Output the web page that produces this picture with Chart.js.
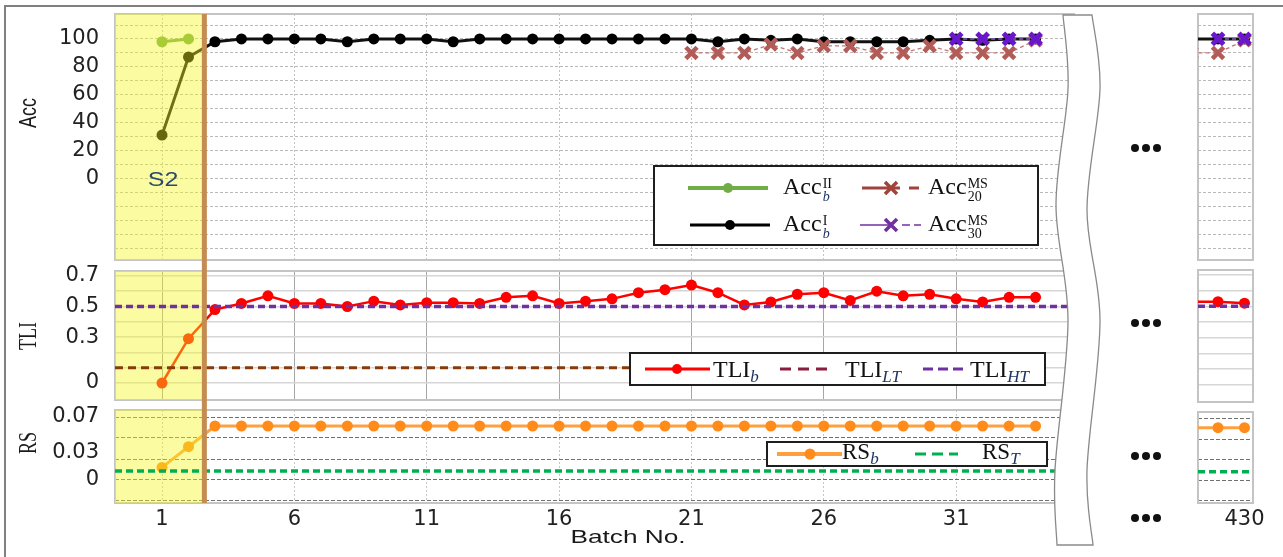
<!DOCTYPE html>
<html>
<head>
<meta charset="utf-8">
<script src="https://cdn.jsdelivr.net/npm/chart.js@4.4.1/dist/chart.umd.min.js"></script>
<style>
body { margin: 0; background: #fff; }
#fig { position: relative; width: 1283px; height: 557px; overflow: hidden; background: #fff; font-family: "Liberation Sans", Arial, sans-serif; }
#fig canvas { position: absolute; }
.frame { position: absolute; left: 4px; top: 5px; width: 1400px; height: 700px; border: 2px solid #808080; }
.title { position: absolute; width: 100px; height: 30px; line-height: 30px; text-align: center; font-size: 18px; color: #1a1a1a; white-space: nowrap; }
.lg { position: absolute; border: 2px solid #1e1e1e; background: #fff; box-sizing: border-box; }
.lg svg { position: absolute; left: 0; top: 0; }
.lt { position: absolute; font-family: "Liberation Serif", serif; color: #111; white-space: nowrap; }
.lt i { color: #1f3366; }
.ss { display: inline-block; vertical-align: -7px; font-size: 14px; line-height: 13px; margin-left: 1px; }
.ss span { display: block; }
.lt sub { font-size: 17px; vertical-align: -5px; line-height: 0; }
.dots { position: absolute; width: 30px; height: 8px; }
.dots b { position: absolute; top: 0; width: 8px; height: 8px; border-radius: 50%; background: #111; }
</style>
</head>
<body>
<div id="fig">
  <div class="frame"></div>
  <canvas id="accMain" width="1075" height="265" style="left:0;top:0"></canvas>
  <canvas id="accTail" width="93" height="265" style="left:1190px;top:0"></canvas>
  <canvas id="tliMain" width="1075" height="140" style="left:0;top:265px"></canvas>
  <canvas id="tliTail" width="93" height="140" style="left:1190px;top:265px"></canvas>
  <canvas id="rsMain" width="1075" height="152" style="left:0;top:405px"></canvas>
  <canvas id="rsTail" width="93" height="152" style="left:1190px;top:405px"></canvas>

  <svg id="wave" width="1283" height="557" style="position:absolute;left:0;top:0"></svg>

  <div class="title" style="left:-22px;top:98px;transform:scaleX(1.35) rotate(-90deg)">Acc</div>
  <div class="title" style="left:-22px;top:321px;font-family:'Liberation Serif',serif;transform:scaleX(1.35) rotate(-90deg)">TLI</div>
  <div class="title" style="left:-22px;top:428px;font-family:'Liberation Serif',serif;transform:scaleX(1.35) rotate(-90deg)">RS</div>
  <div class="title" style="left:578px;top:522px;font-size:19px;transform:scaleX(1.38)">Batch No.</div>
  <div class="title" style="left:113px;top:164px;font-size:20px;color:#2c4a6a;transform:scaleX(1.25)">S2</div>

  <div class="dots" style="left:1131px;top:144px"><b style="left:0"></b><b style="left:11px"></b><b style="left:22px"></b></div>
  <div class="dots" style="left:1131px;top:319px"><b style="left:0"></b><b style="left:11px"></b><b style="left:22px"></b></div>
  <div class="dots" style="left:1131px;top:452px"><b style="left:0"></b><b style="left:11px"></b><b style="left:22px"></b></div>
  <div class="dots" style="left:1131px;top:514px"><b style="left:0"></b><b style="left:11px"></b><b style="left:22px"></b></div>

  <div class="lg" style="left:653px;top:165px;width:386px;height:81px">
    <svg width="382" height="77">
      <line x1="33" y1="21" x2="113" y2="21" stroke="#70ad47" stroke-width="4"/>
      <circle cx="73" cy="21" r="5" fill="#70ad47"/>
      <line x1="207" y1="21" x2="245" y2="21" stroke="#a0443b" stroke-width="3"/>
      <path d="M230 15 L242 27 M242 15 L230 27" stroke="#a0443b" stroke-width="3.5"/>
      <line x1="254" y1="21" x2="264" y2="21" stroke="#a0443b" stroke-width="3"/>
      <line x1="35" y1="58" x2="115" y2="58" stroke="#000" stroke-width="3"/>
      <circle cx="75" cy="58" r="5" fill="#000"/>
      <line x1="205" y1="58" x2="236" y2="58" stroke="#7030a0" stroke-width="1.5"/>
      <path d="M230 52 L242 64 M242 52 L230 64" stroke="#7030a0" stroke-width="3.5"/>
      <line x1="247" y1="58" x2="255" y2="58" stroke="#7030a0" stroke-width="1.5"/>
      <line x1="259" y1="58" x2="266" y2="58" stroke="#7030a0" stroke-width="1.5"/>
    </svg>
    <span class="lt" style="left:128px;top:5px;font-size:24px;line-height:28px">Acc<span class="ss"><span>II</span><span><i>b</i></span></span></span>
    <span class="lt" style="left:273px;top:5px;font-size:24px;line-height:28px">Acc<span class="ss"><span>MS</span><span>20</span></span></span>
    <span class="lt" style="left:128px;top:42px;font-size:24px;line-height:28px">Acc<span class="ss"><span>I</span><span><i>b</i></span></span></span>
    <span class="lt" style="left:273px;top:42px;font-size:24px;line-height:28px">Acc<span class="ss"><span>MS</span><span>30</span></span></span>
  </div>

  <div class="lg" style="left:629px;top:352px;width:417px;height:34px">
    <svg width="413" height="30">
      <line x1="14" y1="15" x2="79" y2="15" stroke="#ff0000" stroke-width="3"/>
      <circle cx="46" cy="15" r="5" fill="#ff0000"/>
      <path d="M149 15 H160 M167 15 H178 M185 15 H196" stroke="#8b1c3c" stroke-width="3"/>
      <path d="M292 15 H302 M307 15 H317 M322 15 H332" stroke="#7030a0" stroke-width="3"/>
    </svg>
    <span class="lt" style="left:82px;top:0;font-size:24px;line-height:30px">TLI<sub><i>b</i></sub></span>
    <span class="lt" style="left:214px;top:0;font-size:24px;line-height:30px">TLI<sub><i>LT</i></sub></span>
    <span class="lt" style="left:339px;top:0;font-size:24px;line-height:30px">TLI<sub><i>HT</i></sub></span>
  </div>

  <div class="lg" style="left:766px;top:441px;width:282px;height:26px">
    <svg width="278" height="22">
      <line x1="9" y1="11" x2="74" y2="11" stroke="#ffa040" stroke-width="4"/>
      <circle cx="42" cy="11" r="5.5" fill="#ff8c1a"/>
      <path d="M147 11 H158 M164 11 H175 M181 11 H190" stroke="#00b050" stroke-width="3"/>
    </svg>
    <span class="lt" style="left:74px;top:-4px;font-size:23px;line-height:26px">RS<sub><i>b</i></sub></span>
    <span class="lt" style="left:214px;top:-4px;font-size:23px;line-height:26px">RS<sub><i>T</i></sub></span>
  </div>
</div>

<script>
// batches shown in the main window and in the tail window
const BATCHES = [1, 2, 3, 4, 5, 6, 7, 8, 9, 10, 11, 12, 13, 14, 15, 16, 17, 18, 19, 20, 21, 22, 23, 24, 25, 26, 27, 28, 29, 30, 31, 32, 33, 34];
const TAIL_BATCHES = [428, 429, 430];

const ACC_I = [31, 87, 98, 100, 100, 100, 100, 98, 100, 100, 100, 98, 100, 100, 100, 100, 100, 100, 100, 100, 100, 98, 100, 99, 100, 98, 98, 98, 98, 99, 100, 99, 100, 100];
const ACC_II = [98, 100, null, null, null, null, null, null, null, null, null, null, null, null, null, null, null, null, null, null, null, null, null, null, null, null, null, null, null, null, null, null, null, null];
const ACC_MS20 = [null, null, null, null, null, null, null, null, null, null, null, null, null, null, null, null, null, null, null, null, 90, 90, 90, 96, 90, 95, 95, 90, 90, 95, 90, 90, 90, 99];
const ACC_MS30 = [null, null, null, null, null, null, null, null, null, null, null, null, null, null, null, null, null, null, null, null, null, null, null, null, null, null, null, null, null, null, 100, 100, 100, 100];
const TLI_B = [0.00, 0.29, 0.48, 0.52, 0.57, 0.52, 0.52, 0.50, 0.535, 0.51, 0.525, 0.525, 0.52, 0.56, 0.57, 0.52, 0.535, 0.55, 0.59, 0.61, 0.64, 0.59, 0.51, 0.53, 0.58, 0.59, 0.54, 0.60, 0.57, 0.58, 0.55, 0.53, 0.56, 0.56];
const RS_B = [0.014, 0.037, 0.06, 0.06, 0.06, 0.06, 0.06, 0.06, 0.06, 0.06, 0.06, 0.06, 0.06, 0.06, 0.06, 0.06, 0.06, 0.06, 0.06, 0.06, 0.06, 0.06, 0.06, 0.06, 0.06, 0.06, 0.06, 0.06, 0.06, 0.06, 0.06, 0.06, 0.06, 0.06];

const TAIL_ACC_I = [100, 100, 100];
const TAIL_ACC_MS20 = [90, 90, 99];
const TAIL_ACC_MS30 = [null, 100, 100];
const TAIL_TLI_B = [0.53, 0.53, 0.52];
const TAIL_RS_B = [0.06, 0.06, 0.06];

const TLI_LT = 0.1;
const TLI_HT = 0.5;
const RS_T = 0.01;
const S2_END = 2.6;   // end of the S2 stage

// axes
const X_MIN = -0.776, X_MAX = 35.49;
const TAIL_X_MIN = 428.244, TAIL_X_MAX = 430.322;
const X_TICKS = [1, 6, 11, 16, 21, 26, 31];
const TAIL_X_TICKS = [430];
const ACC_MIN = -58.6, ACC_MAX = 117.9;
const ACC_GRID = [-50, -40, -30, -20, -10, 0, 10, 20, 30, 40, 50, 60, 70, 80, 90, 100, 110];
const ACC_LABELS = [0, 20, 40, 60, 80, 100];
const TLI_MIN = -0.111, TLI_MAX = 0.732;
const TLI_GRID = [0, 0.1, 0.2, 0.3, 0.4, 0.5, 0.6, 0.7];
const TLI_LABELS = [0, 0.3, 0.5, 0.7];
const RS_MIN = -0.0256, RS_MAX = 0.0778;
const RS_GRID = [-0.0233, 0, 0.0233, 0.0467, 0.07];
const RS_LABELS = [0, 0.03, 0.07];

const TICK_FONT = { family: "DejaVu Sans", size: 21 };
const near = (list, v) => list.some(l => Math.abs(l - v) < 1e-9);
const pts = (xs, ys) => xs.map((x, i) => ({ x, y: ys[i] }));
const dot = (color, r) => ({ pointStyle: "circle", pointRadius: r, pointBackgroundColor: color, pointBorderColor: color, pointBorderWidth: 0 });
const cross = (color, lineColor, w) => ({ pointStyle: "crossRot", pointRadius: 8, pointBorderWidth: w, pointBorderColor: color, pointBackgroundColor: color, borderColor: lineColor, borderWidth: 1.4, borderDash: [4, 3] });

function shade(chart, o) {
  const { ctx, chartArea: a } = chart;
  const x = chart.scales.x.getPixelForValue(o.end);
  ctx.save();
  ctx.fillStyle = "rgba(245,245,30,0.42)";
  ctx.fillRect(a.left, a.top, x - a.left, a.bottom - a.top);
  ctx.restore();
  chart.$shaded = true;
}

// panel frame, S2 shading and the stage boundary
const stagePlugin = {
  id: "stage",
  beforeDatasetsDraw(chart, args, o) {
    const { ctx, chartArea: a } = chart;
    ctx.save();
    ctx.strokeStyle = "#c4c4c4";
    ctx.lineWidth = 2;
    ctx.strokeRect(a.left, a.top, a.right - a.left, a.bottom - a.top);
    ctx.restore();
    chart.$shaded = !o.end;
  },
  beforeDatasetDraw(chart, args, o) {
    if (!chart.$shaded && chart.data.datasets[args.index].overStage) shade(chart, o);
  },
  afterDatasetsDraw(chart, args, o) {
    if (!chart.$shaded) shade(chart, o);
    if (!o.end) return;
    const { ctx, chartArea: a } = chart;
    const x = chart.scales.x.getPixelForValue(o.end);
    ctx.save();
    ctx.strokeStyle = "#c58c52";
    ctx.lineWidth = 5;
    ctx.beginPath();
    ctx.moveTo(x, o.up ? 0 : a.top);
    ctx.lineTo(x, o.down ? chart.height : a.bottom);
    ctx.stroke();
    ctx.restore();
  }
};

function panel(id, o) {
  const main = !o.tail;
  return new Chart(document.getElementById(id), {
    type: "line",
    data: { datasets: o.datasets },
    plugins: [stagePlugin],
    options: {
      responsive: false, animation: false, devicePixelRatio: 1, events: [],
      layout: { padding: o.padding, autoPadding: false },
      elements: { line: { tension: 0 } },
      plugins: { legend: { display: false }, tooltip: { enabled: false }, stage: o.stage || {} },
      scales: {
        x: {
          type: "linear", min: o.xMin, max: o.xMax,
          afterBuildTicks: s => { s.ticks = o.xTicks.map(v => ({ value: v })); },
          ticks: { display: !!o.xLabels, autoSkip: false, maxRotation: 0, padding: 4, font: TICK_FONT, color: "#222", callback: v => String(v) },
          grid: { color: main ? o.vGrid.color : "rgba(0,0,0,0)", lineWidth: 1, drawTicks: false },
          border: { display: false, dash: o.vGrid.dash },
          afterFit: s => { s.height = o.xLabels ? 30 : 0; s.paddingLeft = 0; s.paddingRight = 0; }
        },
        y: {
          type: "linear", min: o.yMin, max: o.yMax,
          afterBuildTicks: s => { s.ticks = o.yTicks.map(v => ({ value: v })); },
          ticks: { display: main, autoSkip: false, padding: 16, font: TICK_FONT, color: "#222", callback: v => near(o.yLabels, v) ? String(v) : "" },
          grid: { color: c => near(o.yGrid, c.tick.value) ? o.hGrid.color : "rgba(0,0,0,0)", lineWidth: o.hGrid.width, drawTicks: false },
          border: { display: false, dash: o.hGrid.dash },
          afterFit: s => { s.width = main ? 115 : 0; s.paddingTop = 0; s.paddingBottom = 0; }
        }
      }
    }
  });
}

const uniq = (a, b) => [...new Set(a.concat(b))].sort((p, q) => p - q);

const ACC_AXIS = { yMin: ACC_MIN, yMax: ACC_MAX, yTicks: uniq(ACC_GRID, ACC_LABELS), yGrid: ACC_GRID, yLabels: ACC_LABELS,
  hGrid: { color: "#b9b9b9", width: 1, dash: [3, 2] }, vGrid: { color: "#c2c2c2", dash: [2, 2] } };
const TLI_AXIS = { yMin: TLI_MIN, yMax: TLI_MAX, yTicks: uniq(TLI_GRID, TLI_LABELS), yGrid: TLI_GRID, yLabels: TLI_LABELS,
  hGrid: { color: "#d6d6d6", width: 1.5, dash: [] }, vGrid: { color: "#a6a6a6", dash: [] } };
const RS_AXIS = { yMin: RS_MIN, yMax: RS_MAX, yTicks: uniq(RS_GRID, RS_LABELS), yGrid: RS_GRID, yLabels: RS_LABELS,
  hGrid: { color: "#707070", width: 1, dash: [4, 2] }, vGrid: { color: "#c6c6c6", dash: [2, 2] } };

const MAIN_X = { xMin: X_MIN, xMax: X_MAX, xTicks: X_TICKS };
const TAIL_X = { xMin: TAIL_X_MIN, xMax: TAIL_X_MAX, xTicks: TAIL_X_TICKS, tail: true };

function accSets(xs, ms30, ms20, i, ii) {
  const sets = [
    { data: pts(xs, ms30), ...cross("#6a16cc", "#8a5cc4", 5) },
    { data: pts(xs, ms20), ...cross("#b35c57", "#c27873", 4.5) },
    { data: pts(xs, i), borderColor: "#111", borderWidth: 3, ...dot("#000", 5.5) }
  ];
  if (ii) sets.push({ data: pts(xs, ii), borderColor: "#70ad47", borderWidth: 3, ...dot("#70ad47", 5.5) });
  return sets;
}

panel("accMain", { ...MAIN_X, ...ACC_AXIS, padding: { top: 14, bottom: 5, left: 0, right: 0 },
  stage: { end: S2_END, up: false, down: true },
  datasets: accSets(BATCHES, ACC_MS30, ACC_MS20, ACC_I, ACC_II) });
panel("accTail", { ...TAIL_X, ...ACC_AXIS, padding: { top: 14, bottom: 5, left: 8, right: 30 },
  datasets: accSets(TAIL_BATCHES, TAIL_ACC_MS30, TAIL_ACC_MS20, TAIL_ACC_I, null) });

function tliSets(xs, tli, x0, x1, ltEnd) {
  return [
    { data: [{ x: x0, y: TLI_HT }, { x: x1, y: TLI_HT }], overStage: true, borderColor: "#7030a0", borderWidth: 3.5, borderDash: [7, 4], pointRadius: 0 },
    ...(ltEnd ? [{ data: [{ x: x0, y: TLI_LT }, { x: ltEnd, y: TLI_LT }], overStage: true, borderColor: "#843c0c", borderWidth: 3, borderDash: [8, 5], pointRadius: 0 }] : []),
    { data: pts(xs, tli), borderColor: "#ff0000", borderWidth: 2.5, ...dot("#ff0000", 5.5) }
  ];
}

panel("tliMain", { ...MAIN_X, ...TLI_AXIS, padding: { top: 6, bottom: 5, left: 0, right: 0 },
  stage: { end: S2_END, up: true, down: true },
  datasets: tliSets(BATCHES, TLI_B, X_MIN, X_MAX, BATCHES[BATCHES.length - 1]) });
panel("tliTail", { ...TAIL_X, ...TLI_AXIS, padding: { top: 5, bottom: 3, left: 8, right: 30 },
  datasets: tliSets(TAIL_BATCHES, TAIL_TLI_B, TAIL_X_MIN, TAIL_X_MAX, null) });

function rsSets(xs, rs, x0, x1) {
  return [
    { data: [{ x: x0, y: RS_T }, { x: x1, y: RS_T }], overStage: true, borderColor: "#00b050", borderWidth: 3.5, borderDash: [7, 4], pointRadius: 0 },
    { data: pts(xs, rs), borderColor: "#ffa040", borderWidth: 3, ...dot("#ff8c1a", 5.5) }
  ];
}

panel("rsMain", { ...MAIN_X, ...RS_AXIS, xLabels: true, padding: { top: 5, bottom: 24, left: 0, right: 0 },
  stage: { end: S2_END, up: true, down: false },
  datasets: rsSets(BATCHES, RS_B, X_MIN, X_MAX) });
panel("rsTail", { ...TAIL_X, ...RS_AXIS, xLabels: true, padding: { top: 7, bottom: 24, left: 8, right: 30 },
  datasets: rsSets(TAIL_BATCHES, TAIL_RS_B, TAIL_X_MIN, TAIL_X_MAX) });

// axis break drawn over the right end of the main panels
function smooth(p) {
  let d = "";
  for (let i = 0; i < p.length - 1; i++) {
    const p0 = p[i - 1] || p[i], p1 = p[i], p2 = p[i + 1], p3 = p[i + 2] || p2;
    const c1 = [p1[0] + (p2[0] - p0[0]) / 6, p1[1] + (p2[1] - p0[1]) / 6];
    const c2 = [p2[0] - (p3[0] - p1[0]) / 6, p2[1] - (p3[1] - p1[1]) / 6];
    d += ` C${c1} ${c2} ${p2}`;
  }
  return d;
}
const leftEdge = [[1063, 15], [1068, 89], [1056, 205], [1068, 321], [1055, 470], [1057, 545]];
const rightEdge = [[1092, 15], [1100, 89], [1087, 210], [1100, 321], [1087, 470], [1093, 545]];
const rev = rightEdge.slice().reverse();
const d = `M${leftEdge[0]}` + smooth(leftEdge) + ` L${rev[0]}` + smooth(rev) + " Z";
document.getElementById("wave").innerHTML =
  `<path d="${d}" fill="#fff" stroke="#8a8a8a" stroke-width="1.3"/>`;
</script>
</body>
</html>
